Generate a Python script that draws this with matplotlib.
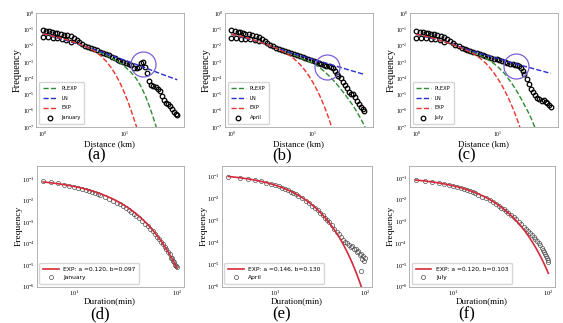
import numpy as np
import matplotlib
matplotlib.use("Agg")
import matplotlib.pyplot as plt
from matplotlib.ticker import LogLocator, NullLocator

plt.rcParams['font.family'] = 'Liberation Serif'
plt.rcParams['mathtext.fontset'] = 'stix'

months = ['January', 'April', 'July']

# ---- distance distributions (top row), frequencies stored as log10 ----
dist_km = [1.0, 1.1, 1.2, 1.3, 1.4, 1.5, 1.65, 1.8, 2.0, 2.2, 2.4, 2.6, 2.8,
           3.0, 3.3, 3.6, 3.9, 4.2, 4.6, 5.0, 5.5, 6.0, 6.5, 7.0, 7.6, 8.2,
           8.9, 9.6, 10.4, 11.2, 12.0, 13.0, 14.0, 15.0, 16.0, 17.0, 18.0,
           19.0, 20.0, 21.0, 22.5, 24.0, 25.5, 27.0, 28.5, 30.0, 32.0, 34.0,
           36.0, 38.0, 40.0, 42.0, 44.0]
jan_dist = [-1.05, -1.10, -1.13, -1.17, -1.20, -1.24, -1.28, -1.33, -1.38, -1.44,
            -1.53, -1.65, -1.80, -1.92, -2.02, -2.10, -2.17, -2.24, -2.30, -2.37,
            -2.44, -2.52, -2.60, -2.70, -2.78, -2.86, -2.95, -3.02, -3.08, -3.15,
            -3.22, -3.35, -3.40, -3.30, -3.10, -3.02, -3.30, -3.70, -4.15, -4.40,
            -4.50, -4.55, -4.65, -4.80, -5.10, -5.35, -5.50, -5.60, -5.70, -5.90,
            -6.05, -6.20, -6.25]
apr_dist = [-1.05, -1.10, -1.15, -1.19, -1.23, -1.27, -1.31, -1.36, -1.42, -1.50,
            -1.60, -1.72, -1.85, -1.96, -2.05, -2.13, -2.22, -2.29, -2.36, -2.42,
            -2.48, -2.54, -2.60, -2.65, -2.70, -2.76, -2.82, -2.88, -2.94, -3.00,
            -3.06, -3.14, -3.20, -3.24, -3.27, -3.30, -3.40, -3.55, -3.72, -3.85,
            -4.00, -4.25, -4.45, -4.60, -4.85, -5.00, -4.95, -5.15, -5.40, -5.60,
            -5.75, -5.90, -6.00]
jul_dist = [-1.12, -1.15, -1.18, -1.21, -1.25, -1.28, -1.32, -1.37, -1.42, -1.50,
            -1.60, -1.72, -1.84, -1.95, -2.04, -2.12, -2.20, -2.28, -2.35, -2.42,
            -2.48, -2.54, -2.60, -2.65, -2.70, -2.75, -2.80, -2.85, -2.90, -2.96,
            -3.01, -3.07, -3.12, -3.16, -3.19, -3.22, -3.24, -3.35, -3.55, -3.75,
            -4.05, -4.35, -4.65, -4.85, -5.05, -5.20, -5.30, -5.38, -5.35, -5.45,
            -5.50, -5.65, -5.80]

# second, lower branch of short trips
low_km = [1.0, 1.15, 1.32, 1.5, 1.7, 1.95, 2.2]
jan_low = [-1.49, -1.50, -1.51, -1.54, -1.58, -1.63, -1.78]
apr_low = [-1.55, -1.56, -1.57, -1.58, -1.60, -1.65, -1.72]
jul_low = [-1.55, -1.55, -1.56, -1.58, -1.60, -1.64, -1.80]

# fitted models (log10 frequency)
jan_plexp_x = [1, 2, 3, 4, 5, 6, 7, 8, 9, 10, 12, 14, 16, 18, 20, 22, 24, 26]
jan_plexp_y = [-1.27, -1.69, -2.0, -2.22, -2.42, -2.6, -2.78, -2.95, -3.1, -3.28,
               -3.65, -4.05, -4.55, -5.1, -5.7, -6.3, -6.9, -7.5]
jan_ln_x = [1, 2, 3, 4, 5, 7, 10, 15, 20, 30, 44]
jan_ln_y = [-1.27, -1.7, -1.98, -2.2, -2.36, -2.62, -2.9, -3.22, -3.46, -3.8, -4.1]
jan_exp_x = [1, 1.5, 2, 2.5, 3, 3.5, 4, 5, 6, 7, 8, 9, 10, 11, 12, 13, 14, 15]
jan_exp_y = [-1.27, -1.48, -1.66, -1.82, -1.97, -2.11, -2.25, -2.58, -2.98, -3.42,
             -3.90, -4.40, -4.92, -5.45, -5.98, -6.5, -7.0, -7.5]

apr_plexp_x = [1, 2, 3, 4, 5, 6, 7, 8, 9, 10, 12, 14, 16, 18, 20, 24, 28, 32, 36,
               40, 44, 46]
apr_plexp_y = [-1.3, -1.72, -2.0, -2.23, -2.42, -2.58, -2.72, -2.85, -2.97, -3.06,
               -3.3, -3.57, -3.84, -4.1, -4.35, -4.83, -5.28, -5.68, -6.1, -6.5,
               -6.9, -7.1]
apr_ln_x = [1, 2, 3, 4, 5, 7, 10, 15, 20, 30, 44]
apr_ln_y = [-1.3, -1.72, -2.0, -2.22, -2.38, -2.6, -2.83, -3.08, -3.27, -3.53, -3.77]
apr_exp_x = [1, 1.5, 2, 2.5, 3, 3.5, 4, 5, 6, 7, 8, 9, 10, 11, 12, 13, 14, 15, 16,
             17, 18]
apr_exp_y = [-1.3, -1.5, -1.7, -1.86, -2.0, -2.13, -2.26, -2.52, -2.82, -3.13,
             -3.47, -3.82, -4.18, -4.55, -4.92, -5.3, -5.68, -6.07, -6.45, -6.85,
             -7.25]

jul_plexp_x = [1, 2, 3, 4, 5, 6, 7, 8, 9, 10, 12, 14, 16, 18, 20, 22, 24, 26, 28, 30]
jul_plexp_y = [-1.3, -1.71, -2.0, -2.22, -2.42, -2.6, -2.78, -2.95, -3.13, -3.32,
               -3.72, -4.17, -4.6, -5.03, -5.45, -5.85, -6.2, -6.6, -7.0, -7.4]
jul_ln_x = [1, 2, 3, 4, 5, 7, 10, 15, 20, 30, 44]
jul_ln_y = [-1.3, -1.7, -1.98, -2.2, -2.36, -2.58, -2.8, -3.06, -3.24, -3.48, -3.71]
jul_exp_x = [1, 1.5, 2, 2.5, 3, 3.5, 4, 5, 6, 7, 8, 9, 10, 11, 12, 13, 14, 15, 16,
             17, 18, 19]
jul_exp_y = [-1.3, -1.5, -1.7, -1.86, -2.0, -2.13, -2.26, -2.5, -2.77, -3.06,
             -3.38, -3.72, -4.06, -4.4, -4.75, -5.1, -5.45, -5.8, -6.15, -6.5,
             -6.85, -7.2]

# highlighted bump (x km, log10 freq)
jan_bump = (16.9, -3.15)
apr_bump = (15.3, -3.29)
jul_bump = (16.4, -3.23)

# ---- duration distributions (bottom row), frequencies stored as log10 ----
dur_tail = [20, 22, 24, 26, 28, 30, 32, 34, 36, 38, 40, 43, 46, 49, 52, 55, 58,
            61, 64, 67, 70, 73, 76, 79, 82, 85, 88, 90, 92, 94, 96, 98, 100]
jan_min = [5, 6, 7, 8, 9, 10, 11, 12, 13, 14, 15, 16, 17, 18] + dur_tail
apr_min = [3, 4, 5, 6, 7, 8, 9, 10, 11, 12, 13, 14, 15, 16, 17, 18] + dur_tail
jul_min = [4, 5, 6, 7, 8, 9, 10, 11, 12, 13, 14, 15, 16, 17, 18] + dur_tail

jan_dur = [-1.08, -1.14, -1.20, -1.26, -1.30, -1.35, -1.40, -1.46, -1.50, -1.55,
           -1.59, -1.65, -1.69, -1.73,
           -1.82, -1.91, -2.00, -2.09, -2.18, -2.27, -2.35, -2.44, -2.53, -2.61,
           -2.70, -2.82, -2.95, -3.08, -3.19, -3.32, -3.43, -3.56, -3.68, -3.79,
           -3.91, -4.04, -4.15, -4.27, -4.40, -4.50, -4.65, -4.69, -4.83, -4.88,
           -4.99, -5.05, -5.11]
apr_dur = [-1.01, -1.06, -1.11, -1.17, -1.23, -1.29, -1.34, -1.41, -1.46, -1.52,
           -1.58, -1.64, -1.70, -1.76, -1.82, -1.88,
           -1.99, -2.10, -2.22, -2.33, -2.44, -2.55, -2.66, -2.76, -2.87, -2.97,
           -3.07, -3.22, -3.37, -3.51, -3.64, -3.76, -3.87, -3.98, -4.02, -4.12,
           -4.22, -4.18, -4.32, -4.28, -4.45, -4.40, -4.58, -4.52, -5.30, -4.75,
           -4.62, -4.85, -4.70]
jul_dur = [-1.10, -1.14, -1.19, -1.24, -1.28, -1.33, -1.37, -1.42, -1.47, -1.52,
           -1.57, -1.62, -1.67, -1.72, -1.77,
           -1.86, -1.95, -2.04, -2.12, -2.21, -2.29, -2.37, -2.45, -2.53, -2.61,
           -2.69, -2.80, -2.91, -3.02, -3.13, -3.24, -3.34, -3.43, -3.52, -3.62,
           -3.71, -3.81, -3.90, -4.01, -4.10, -4.22, -4.32, -4.40, -4.50, -4.58,
           -4.70, -4.78, -4.88]

# exponential fits  f = a * exp(-b * t)
fit_a = [0.120, 0.146, 0.120]
fit_b = [0.097, 0.130, 0.103]
dur_ytop = [0.43, 0.31, 0.37]

tags = ['(a)', '(b)', '(c)', '(d)', '(e)', '(f)']

W, H = 563, 323
fig = plt.figure(figsize=(W / 100, H / 100), dpi=100)


def add_ax(left, top, w, h):
    return fig.add_axes([left / W, 1 - (top + h) / H, w / W, h / H])


def style(ax, size):
    for sp in ax.spines.values():
        sp.set_color('#a6a6a6')
        sp.set_linewidth(0.6)
    ax.tick_params(which='both', length=0, labelsize=size)
    ax.tick_params(axis='y', pad=1.2)
    ax.tick_params(axis='x', pad=1.8)
    ax.xaxis.set_minor_locator(NullLocator())
    ax.yaxis.set_minor_locator(NullLocator())
    ax.yaxis.set_major_locator(LogLocator(base=10, numticks=20))


leg_font = {'family': 'DejaVu Sans', 'size': 3.7}

top_sets = [
    (jan_dist, low_km, jan_low, jan_plexp_x, jan_plexp_y, jan_ln_x, jan_ln_y,
     jan_exp_x, jan_exp_y, jan_bump),
    (apr_dist, low_km, apr_low, apr_plexp_x, apr_plexp_y, apr_ln_x, apr_ln_y,
     apr_exp_x, apr_exp_y, apr_bump),
    (jul_dist, low_km, jul_low, jul_plexp_x, jul_plexp_y, jul_ln_x, jul_ln_y,
     jul_exp_x, jul_exp_y, jul_bump),
]
top_lefts = [36, 224.5, 409.5]

for i, (main, lx, ly, px, py, nx, ny, ex, ey, bump) in enumerate(top_sets):
    ax = add_ax(top_lefts[i], 13, 148, 114)
    ax.set_xscale('log')
    ax.set_yscale('log')
    pts, = ax.plot(dist_km, 10 ** np.array(main), 'o', ms=3.3, mfc='none',
                   mec='black', mew=0.9, label=months[i])
    ax.plot(lx, 10 ** np.array(ly), 'o', ms=3.3, mfc='none', mec='black', mew=0.9)
    l1, = ax.plot(px, 10 ** np.array(py), '--', color='#2e8b34', lw=1.0,
                  label='PLEXP', scalex=False, scaley=False)
    l2, = ax.plot(nx, 10 ** np.array(ny), '--', color='#2b2bd0', lw=1.0,
                  label='LN', scalex=False, scaley=False)
    l3, = ax.plot(ex, 10 ** np.array(ey), '--', color='#e8342c', lw=1.0,
                  label='EXP', scalex=False, scaley=False)
    ax.plot([bump[0]], [10 ** bump[1]], 'o', ms=18, mfc='none', mec='#7b5fd6',
            mew=0.9, scalex=False, scaley=False)
    ax.set_ylim(1e-7, 1)
    style(ax, 4)
    ax.legend(handles=[l1, l2, l3, pts], loc='lower left', prop=leg_font,
              handlelength=2.8, labelspacing=0.95, borderpad=0.7,
              handletextpad=0.8, numpoints=1, borderaxespad=0.6)
    ax.set_xlabel('Distance (km)', fontsize=6.5)
    ax.xaxis.set_label_coords(0.5, -0.115)
    ax.set_ylabel('Frequency', fontsize=7.5)
    ax.yaxis.set_label_coords(-0.095, 0.5)

bot_sets = [(jan_min, jan_dur), (apr_min, apr_dur), (jul_min, jul_dur)]
bot_boxes = [(36.5, 147), (221.5, 150), (409, 146)]
red = '#d42a3a'

for i, (t, f) in enumerate(bot_sets):
    left, w = bot_boxes[i]
    ax = add_ax(left, 165.5, w, 121)
    ax.set_xscale('log')
    ax.set_yscale('log')
    ax.plot(t, 10 ** np.array(f), 'o', ms=3.0, mfc='none', mec='#505050',
            mew=0.5, label=months[i])
    t_arr = np.array(t, dtype=float)
    fit = fit_a[i] * np.exp(-fit_b[i] * t_arr)
    ax.plot(t_arr, fit, '-', color=red, lw=1.2, scalex=False, scaley=False,
            label='EXP: a =%.3f, b=%.3f' % (fit_a[i], fit_b[i]))
    ax.set_ylim(1e-6, dur_ytop[i])
    style(ax, 4.5)
    h, lab = ax.get_legend_handles_labels()
    ax.legend(h[::-1], lab[::-1], loc='lower left',
              prop={'family': 'DejaVu Sans', 'size': 4.3},
              handlelength=2.6, labelspacing=0.5, borderpad=0.6,
              handletextpad=0.8, numpoints=1, borderaxespad=0.5)
    ax.set_xlabel('Duration(min)', fontsize=6.5)
    ax.xaxis.set_label_coords(0.5, -0.09)
    ax.set_ylabel('Frequency', fontsize=6.8)
    ax.yaxis.set_label_coords(-0.095, 0.5)

tag_pos = [(97, 155), (282, 155), (467, 155), (100, 314), (282, 314), (467, 314)]
for tag, (x, y) in zip(tags, tag_pos):
    fig.text(x / W, 1 - y / H, tag, ha='center', va='center', fontsize=12)

fig.savefig('out.png', dpi=100)
